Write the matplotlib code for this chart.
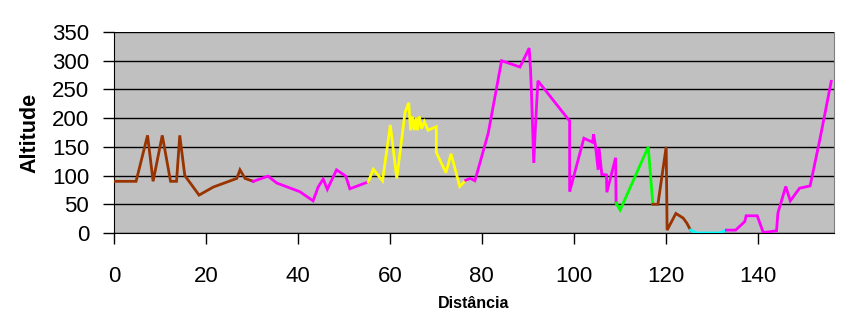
import matplotlib
matplotlib.use("Agg")
import matplotlib.pyplot as plt

# Segment data (distance, altitude) with colours
seg1_d = [0, 4.8, 7.3, 8.5, 10.5, 12.3, 13.6, 14.3, 15.4, 18.5, 21.6, 26.7, 27.4, 28.5, 30.3]
seg1_a = [90, 90, 170, 90, 170, 90, 90, 170, 100, 66, 80, 95, 110, 95, 90]

seg2_d = [30.3, 33.5, 35.4, 40.4, 43.3, 44.4, 45.5, 46.4, 48.4, 50.4, 51.3, 55.3]
seg2_a = [90, 99, 87, 72, 56, 80, 94, 76, 110, 99, 77, 89]

seg3_d = [55.3, 56.4, 58.4, 60.1, 61.5, 63.3, 64.1, 64.5, 64.9, 65.3, 65.7, 66.0, 66.4,
          66.9, 67.5, 68.3, 70.1, 70.1, 72.2, 73.3, 75.2, 76.5]
seg3_a = [89, 111, 91, 188, 95, 210, 227, 179, 203, 179, 201, 179, 203,
          182, 194, 179, 185, 140, 105, 138, 81, 92]

seg4_d = [76.5, 77.5, 78.5, 81.4, 84.3, 88.3, 90.3, 90.6, 90.8, 91.3, 91.7, 92.2, 99.1, 99.1,
          102.2, 104.1, 104.3, 104.7, 105.3, 105.5, 106.1, 107.1, 107.2, 109.1, 109.2]
seg4_a = [92, 95, 91, 174, 300, 289, 322, 284, 243, 122, 191, 265, 195, 72,
          165, 158, 172, 153, 110, 148, 102, 101, 71, 131, 52]

seg5_d = [109.2, 110.1, 116.2, 117.2]
seg5_a = [52, 40, 150, 50]

seg6_d = [117.2, 118.3, 120.1, 120.3, 122.2, 123.8, 124.6, 125.4]
seg6_a = [50, 50, 150, 5, 34, 26, 17, 5]

seg7_d = [125.4, 126.7, 131.7, 133.2]
seg7_a = [5, 0, 0, 5]

seg8_d = [133.2, 135.2, 137.2, 137.5, 139.9, 141.2, 142.5, 144.1, 144.4, 146.1, 147.1,
          149.1, 151.4, 153.5, 156.0]
seg8_a = [5, 5, 20, 30, 30, 1, 2, 4, 35, 81, 56, 78, 82, 162, 264]

segments = [
    (seg1_d, seg1_a, "#993300"),
    (seg2_d, seg2_a, "#FF00FF"),
    (seg3_d, seg3_a, "#FFFF00"),
    (seg4_d, seg4_a, "#FF00FF"),
    (seg5_d, seg5_a, "#00FF00"),
    (seg6_d, seg6_a, "#993300"),
    (seg7_d, seg7_a, "#00FFFF"),
    (seg8_d, seg8_a, "#FF00FF"),
]

x_ticks = [0, 20, 40, 60, 80, 100, 120, 140]
y_ticks = [0, 50, 100, 150, 200, 250, 300, 350]

plt.rcParams['font.family'] = ['Liberation Sans', 'DejaVu Sans']

fig = plt.figure(figsize=(8.49, 3.25), dpi=100)
ax = fig.add_axes([114/849, (325-233)/325, (834-114)/849, (233-32)/325])
ax.set_facecolor("#C0C0C0")

for d, a, c in segments:
    ax.plot(d, a, color=c, linewidth=2, solid_joinstyle='miter', zorder=3)

ax.set_xlim(0, 156.6)
ax.set_ylim(0, 350)
ax.set_xticks(x_ticks)
ax.set_yticks(y_ticks)
ax.yaxis.grid(True, color='black', linewidth=1)
ax.set_axisbelow(True)
ax.tick_params(axis='both', labelsize=16, direction='out', length=8, width=1, color='black')
ax.tick_params(axis='y', pad=10)
ax.tick_params(axis='x', pad=16)

ax.spines['left'].set_color('black')
ax.spines['bottom'].set_color('black')
ax.spines['top'].set_visible(False)
ax.spines['right'].set_color('#808080')

ax.set_ylabel("Altitude", fontsize=15.5, fontweight='bold', labelpad=8)
fig.text(474/849, 1 - 303/325, "Distância", fontsize=11.5, fontweight='bold',
         ha='center', va='center')

fig.savefig("out.png", dpi=100, facecolor='white')
